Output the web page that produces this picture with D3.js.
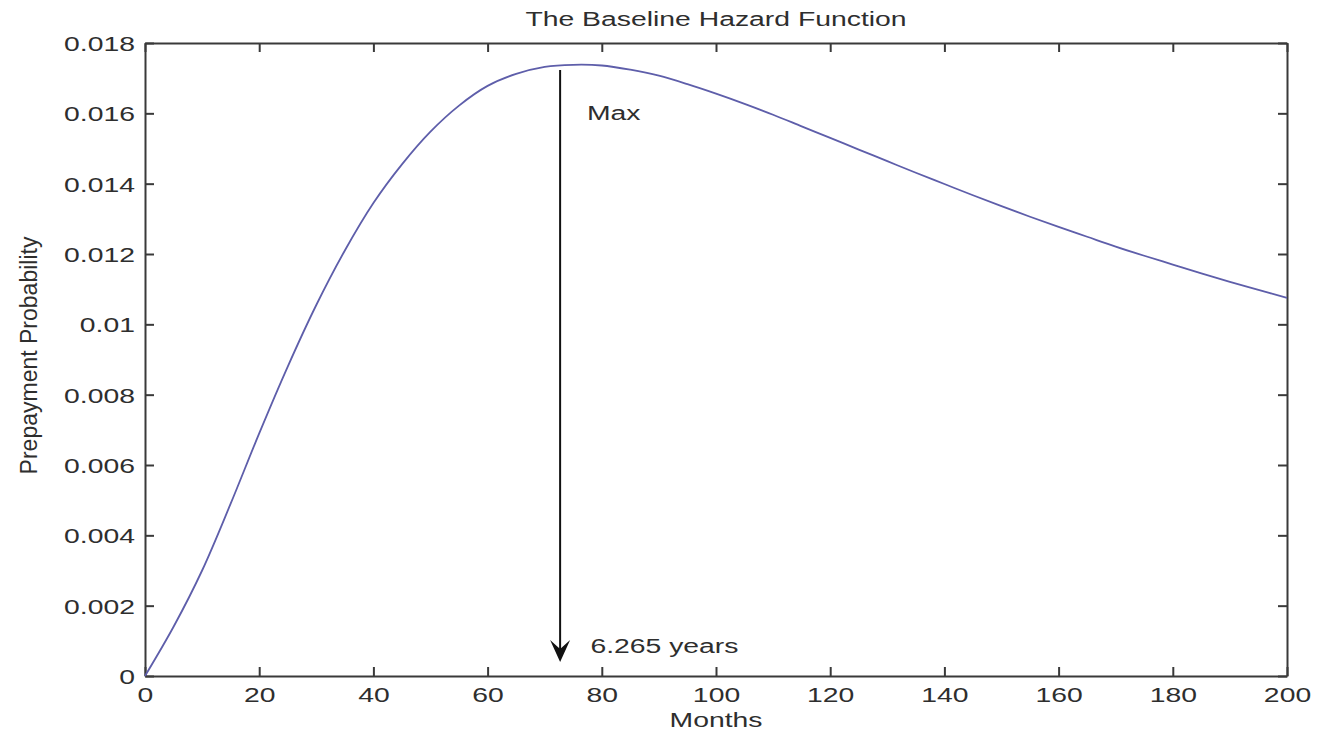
<!DOCTYPE html>
<html>
<head>
<meta charset="utf-8">
<script src="https://cdn.jsdelivr.net/npm/d3@7"></script>
<style>
  html, body { margin: 0; padding: 0; background: #fff; }
  svg { display: block; }
  text { font-family: "Liberation Sans", Arial, sans-serif; fill: #2e2e2e; }
</style>
</head>
<body>
<svg id="chart" width="1335" height="732"></svg>
<script>
// ---- Data ----
const months = [0, 5, 10, 15, 20, 25, 30, 35, 40, 45, 50, 55, 60, 65, 70, 75, 80, 85, 90, 95, 100,
  105, 110, 115, 120, 125, 130, 135, 140, 145, 150, 155, 160, 165, 170, 175, 180, 185, 190, 195, 200];
const hazard = [0, 0.00140, 0.00300, 0.00490, 0.00690, 0.00880, 0.01055, 0.01210, 0.01345, 0.01455, 0.01548,
  0.01622, 0.01678, 0.01712, 0.01732, 0.01738, 0.01736, 0.01724, 0.01707, 0.01683, 0.01656,
  0.01627, 0.01596, 0.01563, 0.01530, 0.01497, 0.01464, 0.01431, 0.01399, 0.01367, 0.01336,
  0.01306, 0.01277, 0.01249, 0.01221, 0.01195, 0.01170, 0.01145, 0.01121, 0.01098, 0.01075];
const xTicks = [0, 20, 40, 60, 80, 100, 120, 140, 160, 180, 200];
const xTickLabels = ["0", "20", "40", "60", "80", "100", "120", "140", "160", "180", "200"];
const yTicks = [0, 0.002, 0.004, 0.006, 0.008, 0.01, 0.012, 0.014, 0.016, 0.018];
const yTickLabels = ["0", "0.002", "0.004", "0.006", "0.008", "0.01", "0.012", "0.014", "0.016", "0.018"];
const arrowX = 72.7;            // months
const arrowTop = 0.01723;
const arrowTip = 0.0004;
const maxLabel = "Max";
const maxLabelPos = [77.4, 0.01582];
const yearsLabel = "6.265 years";
const yearsLabelPos = [78.0, 0.00065];
const title = "The Baseline Hazard Function";
const xTitle = "Months";
const yTitle = "Prepayment Probability";

// ---- Layout ----
const svg = d3.select("#chart");
const L = 145, R = 1287, T = 43, B = 676;
const SX = 1.35; // horizontal stretch of the horizontal text
const x = d3.scaleLinear().domain([0, 200]).range([L, R]);
const y = d3.scaleLinear().domain([0, 0.018]).range([B, T]);
const axisColor = "#3a3a3a";

function styleAxis(g) {
  g.selectAll("path.domain").attr("stroke", axisColor).attr("stroke-width", 2);
  g.selectAll(".tick line").attr("stroke", axisColor).attr("stroke-width", 2);
}

// bottom axis
const gB = svg.append("g").attr("transform", `translate(0,${B})`)
  .call(d3.axisBottom(x).tickValues(xTicks).tickSizeInner(-9).tickSizeOuter(0)
    .tickFormat((d, i) => xTickLabels[i]));
styleAxis(gB);
gB.selectAll(".tick text").attr("y", 26).attr("dy", 0)
  .attr("transform", `scale(${SX},1)`).attr("font-size", 21).attr("fill", "#2e2e2e")
  .attr("font-family", "Liberation Sans, Arial, sans-serif");

// left axis
const gL = svg.append("g").attr("transform", `translate(${L},0)`)
  .call(d3.axisLeft(y).tickValues(yTicks).tickSizeInner(-9).tickSizeOuter(0)
    .tickFormat((d, i) => yTickLabels[i]));
styleAxis(gL);
gL.selectAll(".tick text").attr("x", -10 / SX).attr("dy", "0.36em")
  .attr("transform", `scale(${SX},1)`).attr("font-size", 21).attr("fill", "#2e2e2e")
  .attr("font-family", "Liberation Sans, Arial, sans-serif");

// top axis (ticks only)
const gT = svg.append("g").attr("transform", `translate(0,${T})`)
  .call(d3.axisTop(x).tickValues(xTicks).tickSizeInner(-9).tickSizeOuter(0).tickFormat(""));
styleAxis(gT);

// right axis (ticks only)
const gR = svg.append("g").attr("transform", `translate(${R},0)`)
  .call(d3.axisRight(y).tickValues(yTicks).tickSizeInner(-9).tickSizeOuter(0).tickFormat(""));
styleAxis(gR);

// curve
const line = d3.line().x((d, i) => x(months[i])).y(d => y(d)).curve(d3.curveCatmullRom.alpha(0.5));
svg.append("path").datum(hazard)
  .attr("d", line)
  .attr("fill", "none")
  .attr("stroke", "#5e5eaa")
  .attr("stroke-width", 1.8);

// arrow
const ax = x(arrowX), ay0 = y(arrowTop), ay1 = y(arrowTip);
svg.append("line").attr("x1", ax).attr("x2", ax).attr("y1", ay0).attr("y2", ay1 - 12)
  .attr("stroke", "#111").attr("stroke-width", 2);
svg.append("path")
  .attr("d", `M${ax},${ay1} L${ax - 10},${ay1 - 22} L${ax},${ay1 - 13} L${ax + 10},${ay1 - 22} Z`)
  .attr("fill", "#111");

// text helper (stretched horizontally)
function stretchedText(str, px, py, anchor, size) {
  svg.append("text")
    .attr("transform", `translate(${px},${py}) scale(${SX},1)`)
    .attr("text-anchor", anchor)
    .attr("font-size", size)
    .text(str);
}

stretchedText(maxLabel, x(maxLabelPos[0]), y(maxLabelPos[1]), "start", 21);
stretchedText(yearsLabel, x(yearsLabelPos[0]), y(yearsLabelPos[1]), "start", 21);
stretchedText(title, (L + R) / 2, 26, "middle", 21);
stretchedText(xTitle, (L + R) / 2, 727, "middle", 21);

// y title (rotated)
svg.append("text")
  .attr("transform", `translate(37,${(T + B) / 2 - 4}) rotate(-90)`)
  .attr("text-anchor", "middle")
  .attr("font-size", 23)
  .text(yTitle);
</script>
</body>
</html>
